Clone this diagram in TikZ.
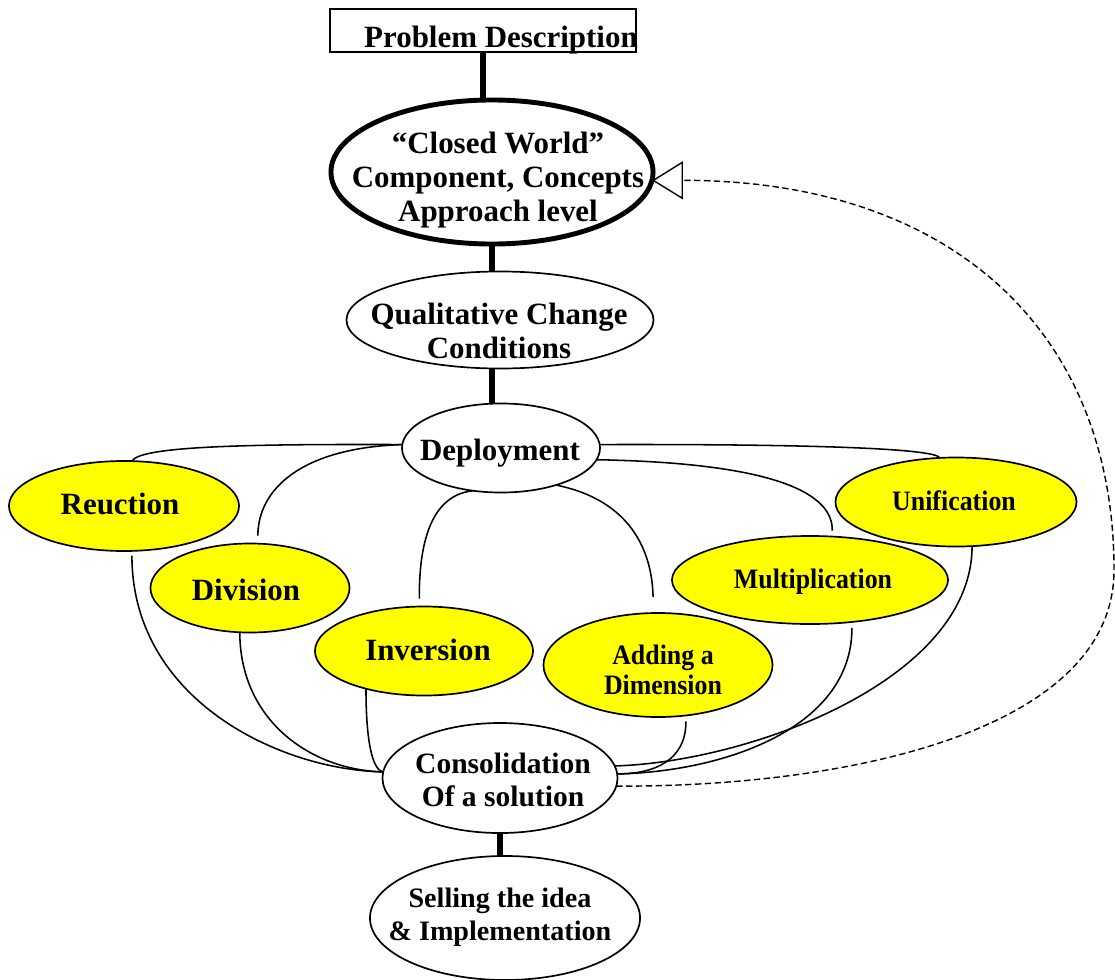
\documentclass[tikz,border=0pt]{standalone}
\usepackage{fontspec}
\setmainfont{Liberation Serif}
\newfontfamily\narrowfont{Liberation Serif}[FakeStretch=0.92]
\usepackage{tikz}
\usetikzlibrary{arrows.meta,shapes.geometric}
\definecolor{ideayellow}{HTML}{FFFF00}
\tikzset{
  bubble/.style={
    ellipse, draw, fill=#1, line width=1.2pt,
    inner sep=0pt, outer sep=0pt
  },
  bubble/.default=white,
  txt/.style={
    font=\fontsize{22}{24}\selectfont\bfseries, align=center, inner sep=0pt
  },
  txtsmall/.style={
    font=\fontsize{21}{24}\selectfont\bfseries, align=center, inner sep=0pt
  },
  txtnarrow/.style={
    font=\narrowfont\fontsize{20}{21}\selectfont\bfseries, align=center, inner sep=0pt
  },
  stem/.style={line width=4.2pt},
  link/.style={line width=1.1pt},
  feedback/.style={
    line width=1pt, dash pattern=on 4.5pt off 2.5pt,
    -{Triangle[open, length=0.775cm, width=0.95cm]}
  },
}

\begin{document}
\begin{tikzpicture}[x=0.025cm, y=-0.025cm]
  \useasboundingbox (0,0) rectangle (1115,979);

  % Top of the chain
  \node[draw, line width=0.8pt, minimum width=7.65cm, minimum height=1.075cm,
        inner sep=0pt, outer sep=0pt] (pd) at (483,30.5) {};
  \node[txt] (pdtxt) at (501,40) {Problem Description};

  \node[bubble, line width=3.5pt, minimum width=8.05cm, minimum height=3.6cm] (cw) at (492,172) {};
  \node[txt] (cwtxt) at (498,180) {“Closed World”\\Component, Concepts\\Approach level};

  \node[bubble, minimum width=7.675cm, minimum height=2.425cm] (qual) at (500,320) {};
  \node[txt] (qualtxt) at (499,331) {Qualitative Change\\Conditions};

  \node[bubble, minimum width=4.95cm, minimum height=2.225cm] (deploy) at (501,448) {};
  \node[txt] (deploytxt) at (500,453) {Deployment};

  % Operators
  \node[bubble=ideayellow, minimum width=5.75cm, minimum height=2.25cm] (reuc) at (124,506) {};
  \node[txt] (reuctxt) at (120,504) {Reuction};

  \node[bubble=ideayellow, minimum width=4.975cm, minimum height=2.225cm] (divi) at (250,588) {};
  \node[txt] (divitxt) at (246,590) {Division};

  \node[bubble=ideayellow, minimum width=5.45cm, minimum height=2.225cm] (inve) at (424,651) {};
  \node[txt] (invetxt) at (428,650) {Inversion};

  \node[bubble=ideayellow, minimum width=5.725cm, minimum height=2.6cm] (addd) at (658,665) {};
  \node[txtnarrow] (adddtxt) at (663,670) {Adding a\\Dimension};

  \node[bubble=ideayellow, minimum width=6.9cm, minimum height=2.2cm] (mult) at (810,580) {};
  \node[txtnarrow] (multtxt) at (813,582) {Multiplication};

  \node[bubble=ideayellow, minimum width=6.025cm, minimum height=2.225cm] (unif) at (956,502) {};
  \node[txtnarrow] (uniftxt) at (954,501) {Unification};

  % Bottom of the chain
  \node[bubble, minimum width=5.875cm, minimum height=2.75cm] (cons) at (500,778) {};
  \node[txtsmall] (constxt) at (503,780) {Consolidation\\Of a solution};

  \node[bubble, minimum width=6.75cm, minimum height=3.1cm] (sell) at (505,918) {};
  \node[txtsmall, font=\fontsize{20}{23.5}\selectfont\bfseries] (selltxt) at (500,917)
    {Selling the idea\\\& Implementation};

  % Thick stems
  \draw[stem] (pd.south) -- (pd.south |- cw.north);
  \draw[stem] (cw.south) -- (cw.south |- qual.north);
  \draw[stem] (cw.south |- qual.south) -- (cw.south |- deploy.north);
  \draw[stem] (cons.south) -- (cons.south |- sell.north);

  % Deployment fan
  \draw[link] (deploy.178) .. controls (250,444) and (140,446) .. (reuc.80);
  \draw[link, shorten >=0.2cm] (deploy.178) .. controls (300,448) and (258,490) .. (divi.80);
  \draw[link, shorten >=0.2cm] (deploy.237) .. controls (430,495) and (419,545) .. (inve.96);
  \draw[link, shorten >=0.4cm] (deploy.326) .. controls (630,500) and (652,550) .. (addd.95);
  \draw[link, shorten >=0.15cm] (deploy.353) .. controls (780,463) and (833,495) .. (mult.63);
  \draw[link] (deploy.2) .. controls (800,444) and (935,448) .. (unif.110);

  % Consolidation fan
  \draw[link, shorten <=0.12cm] (reuc.280) .. controls (132,700) and (280,770) .. (cons.177);
  \draw[link] (divi.257) .. controls (240,720) and (310,770) .. (cons.177);
  \draw[link] (inve.213) .. controls (366,740) and (372,770) .. (cons.177);
  \draw[link, shorten <=0.15cm] (addd.299) .. controls (686,760) and (655,774) .. (cons.2);
  \draw[link, shorten <=0.15cm] (mult.315) .. controls (852,730) and (720,772) .. (cons.2);
  \draw[link] (unif.290) .. controls (972,680) and (750,762) .. (cons.6);

  % Feedback loop
  \draw[feedback] (cons.356) .. controls (850,787) and (1114,730) .. (1114,570)
    .. controls (1114,330) and (950,180) .. (cw.357);
\end{tikzpicture}
\end{document}
